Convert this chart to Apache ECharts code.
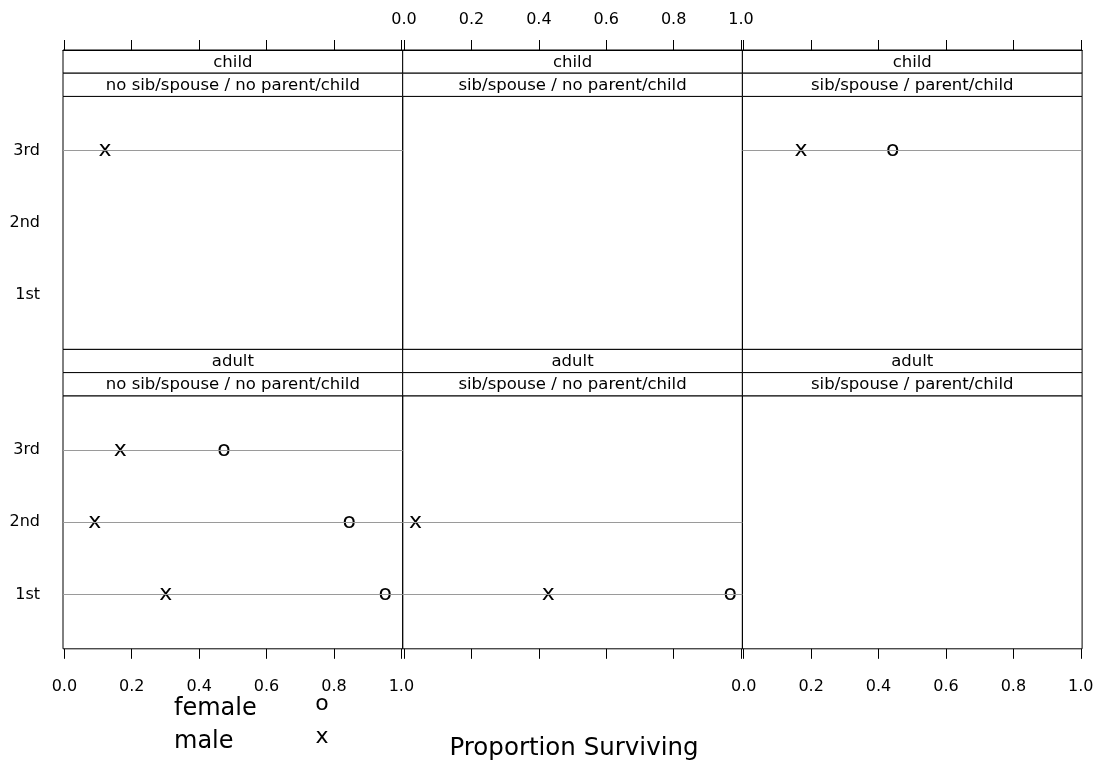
<!DOCTYPE html>
<html>
<head>
<meta charset="utf-8">
<script src="https://cdn.jsdelivr.net/npm/echarts@6/dist/echarts.min.js"></script>
<style>
  html, body { margin: 0; padding: 0; background: #ffffff; }
  #chart { width: 1097px; height: 765px; }
</style>
</head>
<body>
<div id="chart"></div>
<script>
// Titanic survival proportions by class, sex, age group and family aboard
const classes = ['1st', '2nd', '3rd'];
const ageGroups = ['child', 'adult'];
const familyGroups = [
  'no sib/spouse / no parent/child',
  'sib/spouse / no parent/child',
  'sib/spouse / parent/child'
];
const xTicks = [0, 0.2, 0.4, 0.6, 0.8, 1.0];
const sexes = ['female', 'male'];
const sexSymbols = ['o', 'x'];

// one row per family group, values ordered as classes (1st, 2nd, 3rd); null = no passengers
const femaleChild = [
  [null, null, null],
  [null, null, null],
  [null, null, 0.442]
];
const maleChild = [
  [null, null, 0.121],
  [null, null, null],
  [null, null, 0.170]
];
const femaleAdult = [
  [0.952, 0.845, 0.474],
  [0.968, null, null],
  [null, null, null]
];
const maleAdult = [
  [0.301, 0.090, 0.166],
  [0.428, 0.034, null],
  [null, null, null]
];

const panelData = {
  child: { female: femaleChild, male: maleChild },
  adult: { female: femaleAdult, male: maleAdult }
};

// layout of the lattice
const FONT = 'DejaVu Sans';
const LEFT0 = 63, PW = 339.7, TOP0 = 50, SH = 23.2, PH = 253;
const X_MIN = -0.004, X_MAX = 1.004;

const grids = [], xAxes = [], yAxes = [], series = [], graphics = [];

ageGroups.forEach(function (age, r) {
  const rowTop = TOP0 + r * (2 * SH + PH);
  const panelTop = rowTop + 2 * SH;
  familyGroups.forEach(function (fam, c) {
    const gi = grids.length;
    const left = LEFT0 + c * PW;
    grids.push({
      left: left, top: panelTop, width: PW, height: PH,
      show: true, borderColor: '#000', borderWidth: 1, backgroundColor: 'transparent'
    });

    const isTop = r === 0;
    const showXLabels = isTop ? c === 1 : c !== 1;
    xAxes.push({
      type: 'value', gridIndex: gi, min: X_MIN, max: X_MAX,
      position: isTop ? 'top' : 'bottom',
      offset: isTop ? 2 * SH : 0,
      splitLine: { show: false },
      axisLine: { show: isTop, lineStyle: { color: '#000', width: 1 } },
      axisTick: { show: true, inside: false, length: 10, customValues: xTicks,
                  lineStyle: { color: '#000', width: 1 } },
      axisLabel: {
        show: showXLabels, customValues: xTicks,
        margin: isTop ? 22 : 30,
        fontFamily: FONT, fontSize: 16, color: '#000',
        formatter: function (v) { return v.toFixed(1); }
      }
    });
    yAxes.push({
      type: 'value', gridIndex: gi, min: 0.25, max: 3.75,
      splitLine: { show: false },
      axisLine: { show: false },
      axisTick: { show: false },
      axisLabel: {
        show: c === 0, customValues: [1, 2, 3], margin: 23,
        fontFamily: FONT, fontSize: 16, color: '#000',
        formatter: function (v) { return classes[Math.round(v) - 1]; }
      }
    });

    const fem = panelData[age].female[c];
    const mal = panelData[age].male[c];

    // reference lines for the classes that have passengers in this panel
    const refLines = [];
    classes.forEach(function (cl, k) {
      if (fem[k] !== null || mal[k] !== null) refLines.push({ yAxis: k + 1 });
    });
    series.push({
      type: 'scatter', xAxisIndex: gi, yAxisIndex: gi, data: [], z: 1,
      markLine: {
        silent: true, symbol: ['none', 'none'], animation: false,
        label: { show: false },
        lineStyle: { color: '#9a9a9a', width: 1, type: 'solid' },
        data: refLines
      }
    });

    [fem, mal].forEach(function (vals, s) {
      const pts = [];
      vals.forEach(function (v, k) { if (v !== null) pts.push([v, k + 1]); });
      series.push({
        name: sexes[s], type: 'scatter', xAxisIndex: gi, yAxisIndex: gi, z: 3,
        symbol: 'circle', symbolSize: 0, data: pts, silent: true,
        itemStyle: { opacity: 1, color: '#000' },
        label: {
          show: true, position: 'inside', formatter: sexSymbols[s],
          fontFamily: FONT, fontSize: 22, color: '#000', opacity: 1, offset: [0, 0]
        }
      });
    });

    // strips: age group above family group
    [age, fam].forEach(function (txt, k) {
      graphics.push({
        type: 'rect', silent: true,
        shape: { x: left, y: rowTop + k * SH, width: PW, height: SH },
        style: { fill: '#fff', stroke: '#000', lineWidth: 1 }
      });
      graphics.push({
        type: 'text', silent: true,
        x: left + PW / 2, y: rowTop + k * SH + SH / 2 + 1,
        style: { text: txt, fontFamily: FONT, fontSize: 16.5, fill: '#000',
                 align: 'center', verticalAlign: 'middle' }
      });
    });
  });
});

// key and axis title
sexes.forEach(function (s, k) {
  graphics.push({
    type: 'text', silent: true, x: 174, y: 709 + k * 33,
    style: { text: s, fontFamily: FONT, fontSize: 24, fill: '#000',
             align: 'left', verticalAlign: 'middle' }
  });
  graphics.push({
    type: 'text', silent: true, x: 322, y: 704 + k * 33,
    style: { text: sexSymbols[k], fontFamily: FONT, fontSize: 22, fill: '#000',
             align: 'center', verticalAlign: 'middle' }
  });
});
graphics.push({
  type: 'text', silent: true, x: 574, y: 749,
  style: { text: 'Proportion Surviving', fontFamily: FONT, fontSize: 24.5, fill: '#000',
           align: 'center', verticalAlign: 'middle' }
});

const chart = echarts.init(document.getElementById('chart'), null, { renderer: 'canvas' });
chart.setOption({
  animation: false,
  backgroundColor: '#ffffff',
  grid: grids,
  xAxis: xAxes,
  yAxis: yAxes,
  series: series,
  graphic: graphics
});
</script>
</body>
</html>
